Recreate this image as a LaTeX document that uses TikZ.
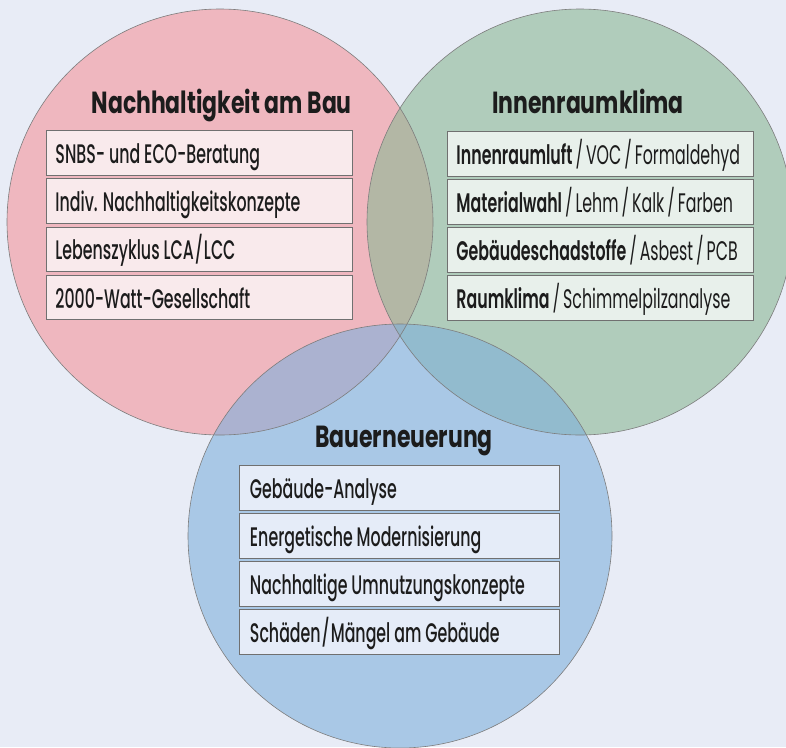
\documentclass[tikz,border=0pt]{standalone}
\usepackage{fontspec}
\setmainfont{Poppins Medium}[FakeStretch=0.59, WordSpace=0.95]
\newfontfamily\lightfont{Poppins}[FakeStretch=0.59, WordSpace=0.9]
\newfontfamily\medfont{Poppins SemiBold}[FakeStretch=0.59, WordSpace=0.9]
\newfontfamily\headfont{Poppins Bold}[FakeStretch=0.72]
\newcommand{\sep}{\kern3pt/\kern3pt}

\definecolor{bgcol}{RGB}{232,236,246}
\definecolor{redfill}{RGB}{244,149,155}
\definecolor{greenfill}{RGB}{139,184,148}
\definecolor{bluefill}{RGB}{127,176,220}
\definecolor{redbox}{RGB}{249,234,236}
\definecolor{greenbox}{RGB}{232,240,235}
\definecolor{bluebox}{RGB}{229,236,248}
\definecolor{rim}{RGB}{125,125,125}
\definecolor{boxline}{RGB}{112,112,112}
\definecolor{ink}{RGB}{28,28,28}

\tikzset{
    item/.style={draw=boxline, line width=0.9pt, anchor=north west,
        minimum width=306pt, minimum height=44.5pt, text width=288pt,
        align=justify, inner xsep=9pt, inner ysep=0pt,
        text height=21pt, text depth=0pt, text=ink,
        font=\fontsize{26.8}{30}\selectfont},
    heading/.style={inner sep=0pt, text=ink,
        font=\fontsize{30.5}{32}\headfont}
}

\begin{document}
\begin{tikzpicture}[x=1pt,y=-1pt]
    \useasboundingbox (0,0) rectangle (786,747);
    \fill[bgcol] (0,0) rectangle (786,747);
    \clip (0,0) rectangle (786,747);

    \fill[redfill, fill opacity=0.6] (220,222) circle (213pt);
    \fill[greenfill, fill opacity=0.6] (580,222) circle (213pt);
    \fill[bluefill, fill opacity=0.6] (400,536) circle (212pt);
    \draw[rim, line width=0.6pt] (220,222) circle (213pt);
    \draw[rim, line width=0.6pt] (580,222) circle (213pt);
    \draw[rim, line width=0.6pt] (400,536) circle (212pt);

    \node[heading, anchor=base east] (bautitle) at (352,113) {Nachhaltigkeit am Bau};
    \node[heading, anchor=base] (klimatitle) at (588,113) {Innenraumklima};
    \node[heading, anchor=base] (erneuerungtitle) at (404,447) {Bauerneuerung};

    \foreach \t [count=\i] in {SNBS- und ECO-Beratung, Indiv. Nachhaltigkeitskonzepte,
        Lebenszyklus LCA\kern1pt/\kern1pt LCC, 2000-Watt-Gesellschaft} {
        \node[item, fill=redbox] (bau\i) at (46,{130+48.3*(\i-1)}) {\t};
    }

    \foreach \t [count=\i] in {{{\medfont Innenraumluft}\lightfont\sep VOC\sep Formaldehyd},
        {{\medfont Materialwahl}\lightfont\sep Lehm\sep Kalk\sep Farben},
        {{\medfont Gebäudeschadstoffe}\lightfont\sep Asbest\sep PCB},
        {{\medfont Raumklima}\lightfont\sep Schimmelpilzanalyse}} {
        \node[item, fill=greenbox] (klima\i) at (447,{131+48*(\i-1)}) {\t};
    }

    \foreach \t [count=\i] in {Gebäude-Analyse, Energetische Modernisierung,
        Nachhaltige Umnutzungskonzepte, Schäden\kern1pt/\kern1pt Mängel am Gebäude} {
        \node[item, fill=bluebox, minimum width=320pt, text width=299pt,
            inner xsep=10.5pt] (erneuerung\i) at (239,{465+48*(\i-1)}) {\t};
    }
\end{tikzpicture}
\end{document}
